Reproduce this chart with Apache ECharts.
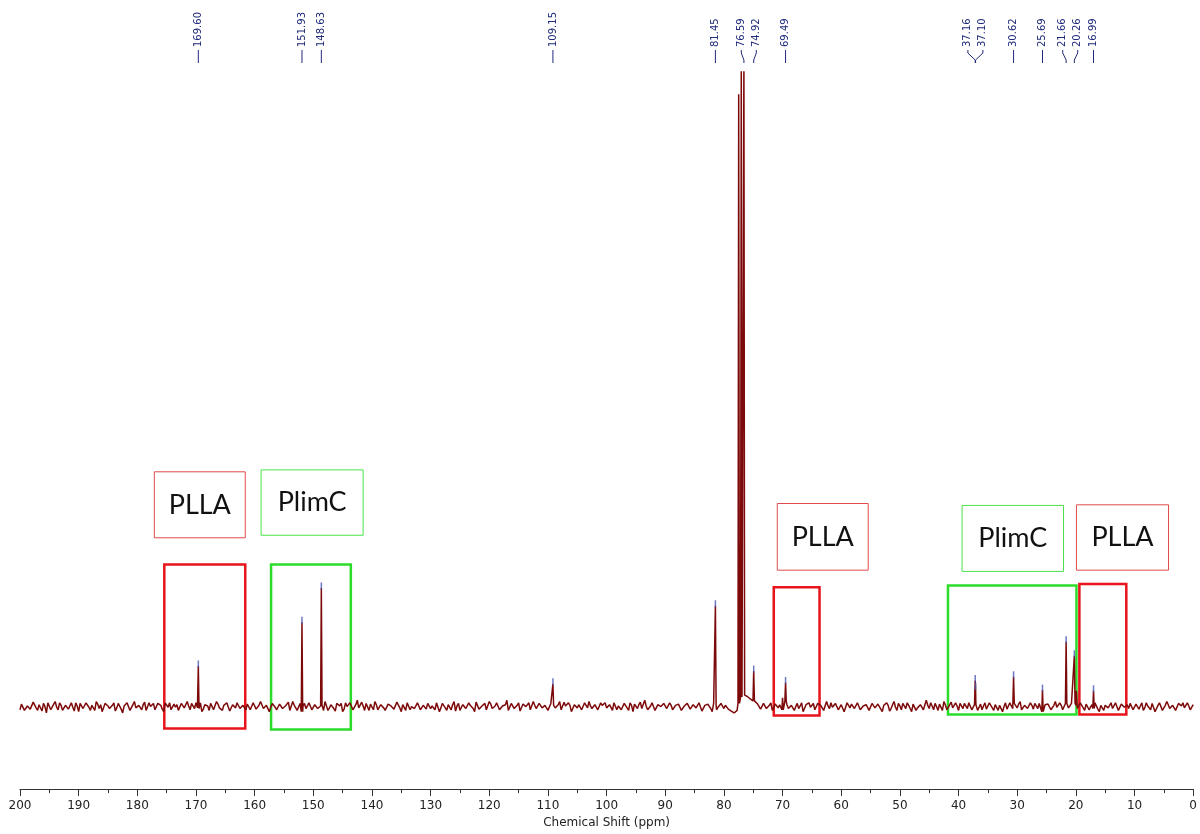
<!DOCTYPE html>
<html>
<head>
<meta charset="utf-8">
<title>13C NMR</title>
<script src="https://cdn.jsdelivr.net/npm/echarts@6/dist/echarts.min.js"></script>
<style>
  html, body { margin: 0; padding: 0; background: #fff; }
  #chart { width: 1200px; height: 834px; }
</style>
</head>
<body>
<div id="chart"></div>
<script>
// baseline noise, one value every 0.5 ppm from 200 down to 0
var noise = [
  -0.5,0.3,-0.8,0.2,-0.3,0.6,-0.6,0.1,0.5,-1.0,0.3,-0.2,0.8,-0.5,0.2,-0.6,0.5,-0.3,-0.1,0.6,
  -0.8,0.3,-0.2,0.5,-0.6,0.2,0.8,-0.3,-0.8,0.5,0.1,-0.5,0.6,-0.2,0.3,-1.0,0.2,0.5,-0.3,0.8,
  -0.5,0.1,0.3,-0.6,0.6,-0.2,-0.5,0.5,0.2,-0.8,0.3,0.6,-0.3,-0.1,-0.6,0.5,-0.2,0.8,-0.5,0.2,
  0.6,-0.3,-0.8,0.3,0.1,0.5,-0.5,0.8,-0.2,-0.6,0.2,0.5,-1.0,0.3,0.6,-0.3,0.2,-0.5,0.5,-0.2,
  0.3,-0.6,0.8,-0.3,0.2,-0.8,0.5,-0.1,-0.5,0.6,-0.2,0.3,-0.6,0.8,0.2,-0.3,-0.8,0.5,0.1,0.3,
  -0.2,0.6,-0.5,0.2,0.8,-0.6,0.3,-0.3,0.5,0.1,-0.8,0.6,-0.2,0.3,-0.5,1.0,-0.3,0.1,0.5,-0.6,
  0.2,0.8,-0.5,0.3,-0.2,-0.6,0.6,-0.1,-0.3,0.5,-0.8,0.2,0.6,-0.5,0.3,-0.2,0.8,-0.6,0.1,0.5,
  -0.3,0.2,0.6,-0.8,0.5,-0.2,0.3,-0.5,0.8,0.1,-0.6,0.3,-0.3,0.6,0.2,-0.8,0.5,-0.2,0.3,-0.5,
  0.8,-0.3,0.1,0.5,-0.6,0.3,1.0,-0.5,0.2,-0.2,0.6,-0.8,0.3,-0.1,-0.5,0.8,-0.3,0.5,-0.2,0.2,
  -0.6,0.5,0.2,-0.3,0.8,-0.5,0.1,0.6,-0.8,0.3,-0.2,0.5,-0.6,0.2,0.8,-0.3,0.3,-0.5,0.6,-0.1,
  -0.2,0.3,-0.6,0.8,0.1,-0.5,0.5,-0.2,0.6,-0.8,0.2,0.3,-0.3,1.0,-0.5,0.1,0.5,-0.6,0.3,-0.2,
  0.6,-0.5,0.2,-0.8,0.5,0.3,-0.3,0.1,0.8,-0.6,0.2,-0.2,0.5,-0.5,0.3,0.6,-0.8,0.2,-0.1,0.5,
  -0.3,0.5,-0.5,-0.8,-1.2,0.5,1.5,1.8,1.6,1.2,0.9,0.6,0.3,-0.5,0.5,-0.2,0.6,-0.6,0.2,0.3,
  -0.5,0.8,-0.3,0.2,-0.6,0.5,0.1,-0.8,0.3,0.6,-0.2,-0.5,0.5,0.2,-0.6,0.8,-0.3,-0.1,0.5,-0.5,
  0.3,-0.8,0.6,-0.2,0.2,-0.5,0.8,-0.3,0.1,0.5,-0.6,0.3,-0.2,0.6,-0.8,0.5,0.2,-0.3,0.8,-0.6,
  0.1,0.5,-0.3,0.2,-0.8,0.6,-0.2,0.3,-0.5,1.0,-0.3,0.1,0.5,-0.6,0.2,0.8,-0.5,0.3,-0.2,0.6,
  -0.6,0.2,0.5,-0.3,0.8,-0.8,0.3,-0.1,-0.5,0.6,-0.2,0.5,-0.6,0.3,0.2,-0.8,0.6,-0.3,0.1,0.5,
  -0.2,0.8,-0.5,0.3,-0.6,0.2,0.5,-0.3,0.6,-0.8,0.1,0.3,-0.5,0.8,-0.2,0.2,-0.6,0.5,-0.3,0.6,
  0.2,-0.5,0.8,-0.6,0.3,-0.1,-0.3,0.6,-0.8,0.5,0.2,-0.2,0.6,-0.5,0.3,-0.8,0.5,0.1,-0.3,0.8,
  -0.5,0.3,0.1,-0.6,0.6,-0.2,0.5,-0.8,0.2,0.3,-0.5,0.8,-0.3,0.2,-0.6,0.5,0.1,-0.2,0.6,-0.5,
  0.3
];

// noise read between the grid points above, 199.75 ppm down to 0.25 ppm
var noiseMid = [
  0.4,-0.6,0.1,-0.4,0.7,-0.2,0.3,-0.7,0.0,0.6,-0.5,0.4,-0.1,0.6,-0.6,0.2,-0.4,0.6,-0.7,0.1,
  0.5,-0.3,0.6,-0.1,0.2,-0.6,0.4,0.3,-0.5,0.7,-0.3,0.2,-0.7,0.5,-0.4,0.1,0.6,-0.6,0.3,-0.2,
  0.2,-0.5,0.7,-0.3,0.0,0.5,-0.6,0.2,-0.4,0.6,-0.1,-0.5,0.4,0.3,-0.7,0.6,-0.4,0.1,0.5,-0.3,
  -0.2,0.6,-0.4,0.1,-0.6,0.7,-0.3,0.4,-0.5,0.2,0.6,-0.7,0.3,-0.2,0.5,-0.6,0.0,0.4,-0.5,0.6,
  -0.4,0.2,0.5,-0.6,0.3,-0.1,0.6,-0.5,0.4,-0.3,0.1,0.7,-0.4,0.2,-0.6,0.5,0.1,-0.3,0.6,-0.5,
  0.3,-0.3,0.1,-0.6,0.6,-0.2,0.4,-0.7,0.2,0.5,-0.4,0.0,0.6,-0.5,0.3,-0.2,0.7,-0.6,0.2,0.4,
  -0.5,0.3,-0.1,0.6,-0.6,0.4,0.1,-0.4,0.7,-0.2,0.3,-0.6,0.5,0.0,-0.3,0.6,-0.5,0.2,-0.4,0.7,
  0.1,-0.5,0.4,-0.2,0.6,-0.6,0.2,0.3,-0.7,0.5,-0.1,0.4,-0.5,0.2,-0.3,0.7,-0.4,0.1,0.5,-0.6,
  0.4,-0.2,0.6,-0.5,0.1,0.3,-0.6,0.5,-0.3,0.2,-0.7,0.4,0.0,0.6,-0.4,0.2,-0.5,0.6,-0.1,0.3,
  -0.6,0.5,-0.2,0.3,-0.5,0.7,-0.1,0.2,-0.6,0.4,0.3,-0.5,0.6,-0.2,0.1,-0.6,0.5,-0.3,0.2,0.6,
  -0.4,0.1,0.6,-0.5,0.3,-0.2,0.5,-0.6,0.2,0.4,-0.3,0.7,-0.5,0.1,-0.2,0.6,-0.6,0.3,0.0,0.5,
  -0.3,0.6,-0.5,0.2,0.4,-0.6,0.1,0.5,-0.4,0.3,-0.2,0.6,-0.7,0.2,0.4,-0.3,0.5,-0.5,0.1,0.6,
  0.2,-0.4,-0.7,-1.0,-0.6,1.0,1.7,1.7,1.4,1.1,0.7,0.4,-0.4,0.5,-0.3,0.2,-0.6,0.4,-0.2,0.6,
  -0.4,0.3,-0.6,0.5,0.0,-0.3,0.6,-0.5,0.2,-0.1,0.5,-0.6,0.3,0.4,-0.5,0.1,0.6,-0.4,0.2,-0.2,
  0.5,-0.6,0.2,0.4,-0.3,0.6,-0.5,0.1,0.3,-0.6,0.5,-0.2,0.4,-0.4,0.2,0.6,-0.7,0.3,-0.1,0.5,
  -0.5,0.2,0.6,-0.3,0.4,-0.6,0.1,0.5,-0.4,0.2,0.6,-0.5,0.0,0.4,-0.6,0.3,-0.2,0.7,-0.4,0.1,
  0.5,-0.3,0.2,0.6,-0.5,0.3,-0.6,0.4,0.1,-0.4,0.6,-0.2,0.3,-0.6,0.5,0.0,-0.4,0.6,-0.3,0.2,
  0.4,-0.5,0.2,-0.3,0.6,-0.4,0.1,0.5,-0.6,0.3,0.4,-0.5,0.2,-0.1,0.6,-0.5,0.3,-0.2,0.5,-0.4,
  -0.3,0.6,-0.2,0.4,-0.5,0.3,0.6,-0.4,0.2,-0.6,0.5,0.1,-0.3,0.6,-0.6,0.4,-0.1,0.3,0.5,-0.5,
  0.4,-0.4,0.6,-0.2,0.1,-0.5,0.5,-0.3,0.6,-0.6,0.2,0.3,-0.4,0.5,-0.5,0.2,0.6,-0.3,0.1,-0.6
];

// peak positions (ppm) and heights (tallest = 100)
var peakPpm    = [169.60, 151.93, 148.63, 109.15, 81.45, 77.48, 77.04, 76.59, 74.92, 70.00, 69.49, 37.16, 37.10, 30.62, 25.69, 21.66, 20.26, 19.90, 16.99];
var peakHeight = [6.7,    14.1,   18.5,   3.4,    15.7,  96,    100,   100,   4.7,   1.9,   3.0,   3.8,   2.6,   4.2,   3.4,   9.7,   7.4,   2.3,   2.8];

// picked peaks printed along the top
var labelPpm = [169.60, 151.93, 148.63, 109.15, 81.45, 76.59, 74.92, 69.49, 37.16, 37.10, 30.62, 25.69, 21.66, 20.26, 16.99];

// annotated regions
var regionNames = ['PLLA', 'PlimC', 'PLLA', 'PlimC', 'PLLA'];
var regionPpm   = [[175.4, 161.6], [157.2, 143.6], [71.5, 63.7], [41.8, 19.9], [19.4, 11.4]];
var regionSpan  = [[-3.45, 22.4], [-3.6, 22.4], [-1.4, 18.8], [-1.25, 19.1], [-1.25, 19.3]];
var tagPpm      = [[177.1, 161.6], [158.9, 141.5], [70.9, 55.4], [39.4, 22.1], [19.9, 4.2]];
var tagSpan     = [[26.6, 37.0], [27.0, 37.3], [21.5, 32.0], [21.3, 31.7], [21.5, 31.8]];

var HALF = 0.12;
var STEP = 0.5;

function baseAt(ppm) {
  var i = Math.round((200 - ppm) / STEP);
  return noise[Math.max(0, Math.min(noise.length - 1, i))];
}

function nearPeak(x) {
  return peakPpm.some(function (p) { return Math.abs(p - x) <= HALF; });
}

// build the trace: both noise grids plus a spike for every peak
var trace = [];
noise.forEach(function (v, i) {
  var x = 200 - i * STEP;
  if (!nearPeak(x)) trace.push([x, v]);
});
noiseMid.forEach(function (v, i) {
  var x = 199.75 - i * STEP;
  if (!nearPeak(x)) trace.push([x, v]);
});
peakPpm.forEach(function (p, i) {
  var b = baseAt(p);
  trace.push([p + HALF, b]);
  trace.push([p, b + peakHeight[i]]);
  trace.push([p - HALF, b]);
});
trace.sort(function (a, b) { return b[0] - a[0]; });

var tops = labelPpm.map(function (p) {
  var i = peakPpm.indexOf(p);
  return [p, baseAt(p) + peakHeight[i]];
});

var colorOf = { PLLA: '#e8141c', PlimC: '#2bdc2b' };
var thinOf = { PLLA: '#e24a4a', PlimC: '#4ae24a' };

var areas = [];
regionNames.forEach(function (n, i) {
  areas.push([
    { coord: [regionPpm[i][0], regionSpan[i][0]],
      itemStyle: { color: 'rgba(0,0,0,0)', borderColor: colorOf[n], borderWidth: 2.5 },
      label: { show: false } },
    { coord: [regionPpm[i][1], regionSpan[i][1]] }
  ]);
  areas.push([
    { coord: [tagPpm[i][0], tagSpan[i][0]], name: n,
      itemStyle: { color: 'rgba(0,0,0,0)', borderColor: thinOf[n], borderWidth: 1 },
      label: { show: true, position: 'inside', formatter: n, fontSize: 27, fontFamily: 'Lato', color: '#111' } },
    { coord: [tagPpm[i][1], tagSpan[i][1]] }
  ]);
});

// push crowded labels apart, keeping each group centred on its peaks
function spread(xs, gap) {
  var order = xs.map(function (x, i) { return i; }).sort(function (a, b) { return xs[a] - xs[b]; });
  var cl = [];
  function bounds(c) {
    var m = c.sum / c.idx.length, h = (c.idx.length - 1) * gap / 2;
    return [m - h, m + h];
  }
  order.forEach(function (k) {
    cl.push({ idx: [k], sum: xs[k] });
    while (cl.length > 1 && bounds(cl[cl.length - 2])[1] + gap > bounds(cl[cl.length - 1])[0]) {
      var b = cl.pop(), a = cl.pop();
      cl.push({ idx: a.idx.concat(b.idx), sum: a.sum + b.sum });
    }
  });
  var pos = [];
  cl.forEach(function (c) {
    var lo = bounds(c)[0];
    c.idx.forEach(function (k, j) { pos[k] = lo + j * gap; });
  });
  return pos;
}

var chart = echarts.init(document.getElementById('chart'));
chart.setOption({
  animation: false,
  backgroundColor: '#fff',
  grid: { left: 20, right: 3, top: 72, bottom: 41 },
  xAxis: {
    type: 'value',
    inverse: true,
    min: 0,
    max: 200,
    interval: 10,
    name: 'Chemical Shift (ppm)',
    nameLocation: 'middle',
    nameGap: 26,
    nameTextStyle: { fontSize: 12, color: '#222', fontFamily: 'DejaVu Sans' },
    axisLine: { onZero: false, lineStyle: { color: '#333', width: 1 } },
    axisTick: { length: 7, lineStyle: { color: '#333' } },
    minorTick: { show: true, splitNumber: 2, length: 4, lineStyle: { color: '#333' } },
    axisLabel: { fontSize: 12, color: '#222', fontFamily: 'DejaVu Sans', margin: 11 },
    splitLine: { show: false }
  },
  yAxis: { type: 'value', min: -13, max: 100, show: false },
  series: [
    {
      type: 'line',
      data: trace,
      showSymbol: false,
      sampling: false,
      lineStyle: { color: '#7d0a0a', width: 1.5 },
      z: 3,
      markArea: { silent: true, data: areas }
    },
    {
      type: 'scatter',
      data: tops,
      symbol: 'rect',
      symbolSize: [1.5, 7],
      symbolOffset: [0, -2],
      itemStyle: { color: '#4a55b0' },
      z: 4
    },
    {
      type: 'custom',
      data: labelPpm.map(function (p) { return [p, 100]; }),
      z: 5,
      renderItem: function (params, api) {
        var i = params.dataIndex;
        var xs = labelPpm.map(function (p) { return api.coord([p, 0])[0]; });
        var pos = spread(xs, 15);
        var top = params.coordSys.y;
        var lx = pos[i], px = xs[i];
        return {
          type: 'group',
          children: [
            { type: 'polyline',
              shape: { points: [[lx, top - 22], [lx, top - 19], [px, top - 12], [px, top - 9]] },
              style: { stroke: '#1f2a7a', lineWidth: 1, fill: null } },
            { type: 'text', x: lx, y: top - 25, rotation: Math.PI / 2,
              style: { text: labelPpm[i].toFixed(2), fill: '#1f2a7a', fontSize: 10,
                       fontFamily: 'DejaVu Sans', align: 'left', verticalAlign: 'middle' } }
          ]
        };
      }
    }
  ]
});
</script>
</body>
</html>
